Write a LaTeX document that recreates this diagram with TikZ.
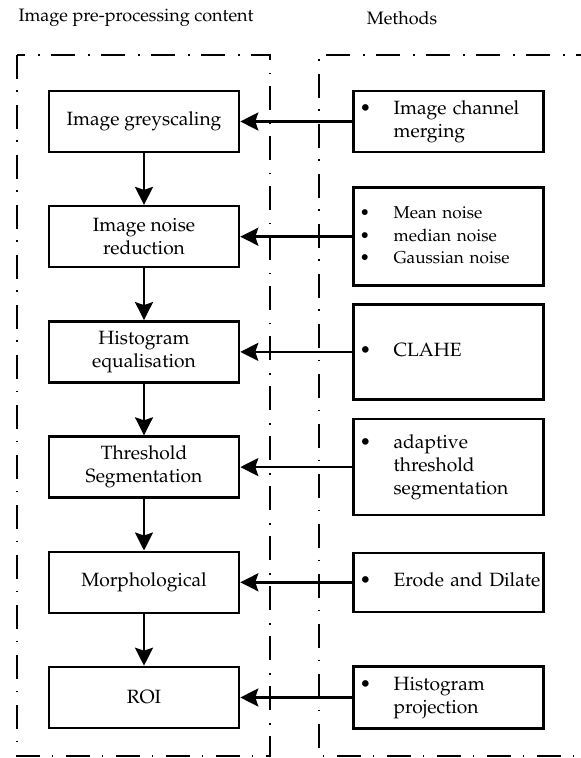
\documentclass[tikz,border=0pt]{standalone}
\usepackage[T1]{fontenc}
\usepackage{mathpazo}
\usetikzlibrary{arrows.meta, positioning}
\tikzset{
  every picture/.style={line width=1pt},
  stage/.style={draw, line width=1.3pt, minimum width=95pt, minimum height=30.5pt, inner sep=2pt, align=center, font=\fontsize{9.6}{11.5}\selectfont},
  method/.style={draw, line width=1.3pt, text width=89pt, inner xsep=3pt, inner ysep=2pt, align=left, font=\fontsize{9.6}{11.5}\selectfont},
  frame/.style={line width=1.1pt, dash pattern=on 12pt off 5.75pt on 0.75pt off 6.5pt},
  arrow/.style={-{Stealth[length=9pt, width=9pt, inset=1.5pt]}, line width=1.2pt},
  title/.style={font=\fontsize{9}{11}\selectfont},
}
\newcommand{\bul}{\textbullet}

\begin{document}
\begin{tikzpicture}[x=0.5pt, y=-0.5pt]
  \useasboundingbox (0,0) rectangle (581,758);
  \node[title] (head) at (136,18) {Image pre-processing content};
  \node[title] (meth) at (402,18) {Methods};
  % dash-dot frames round the two columns
  \draw[frame] (17,55) rectangle (270,756);
  \draw[frame] (600,55) -- (319,55) -- (319,756) -- (600,756);
  \foreach \i/\txt in {1/Image greyscaling, 2/{Image noise\\reduction}, 3/{Histogram\\equalisation},
                       4/{Threshold\\Segmentation}, 5/Morphological, 6/ROI}
    \node[stage] (s\i) at (144,{121.5+115.2*(\i-1)}) {\txt};
  \node[method, minimum height=30.5pt, right=56pt of s1] (p1)
    {\begin{tabular}{@{}p{17pt}@{}l@{}}\bul & Image channel\\ & merging\end{tabular}};
  \node[method, minimum height=49pt, right=56pt of s2, font=\fontsize{8.6}{11.25}\selectfont] (p2)
    {\begin{tabular}{@{}p{17pt}@{}l@{}}\bul & Mean noise\\ \bul & median noise\\ \bul & Gaussian noise\end{tabular}};
  \node[method, minimum height=47.5pt, right=56pt of s3] (p3)
    {\begin{tabular}{@{}p{17pt}@{}l@{}}\bul & CLAHE\end{tabular}};
  \node[method, minimum height=48pt, right=56pt of s4] (p4)
    {\begin{tabular}{@{}p{17pt}@{}l@{}}\bul & adaptive\\ & threshold\\ & segmentation\end{tabular}};
  \node[method, minimum height=29.5pt, right=56pt of s5] (p5)
    {\begin{tabular}{@{}p{17pt}@{}l@{}}\bul & Erode and Dilate\end{tabular}};
  \node[method, minimum height=31pt, right=56pt of s6] (p6)
    {\begin{tabular}{@{}p{17pt}@{}l@{}}\bul & Histogram\\ & projection\end{tabular}};
  \foreach \i/\j in {1/2, 2/3, 3/4, 4/5, 5/6}
    \draw[arrow] (s\i) -- (s\j);
  \foreach \i in {1,...,6}
    \draw[arrow] (p\i.west) -- (s\i.east);
\end{tikzpicture}
\end{document}
